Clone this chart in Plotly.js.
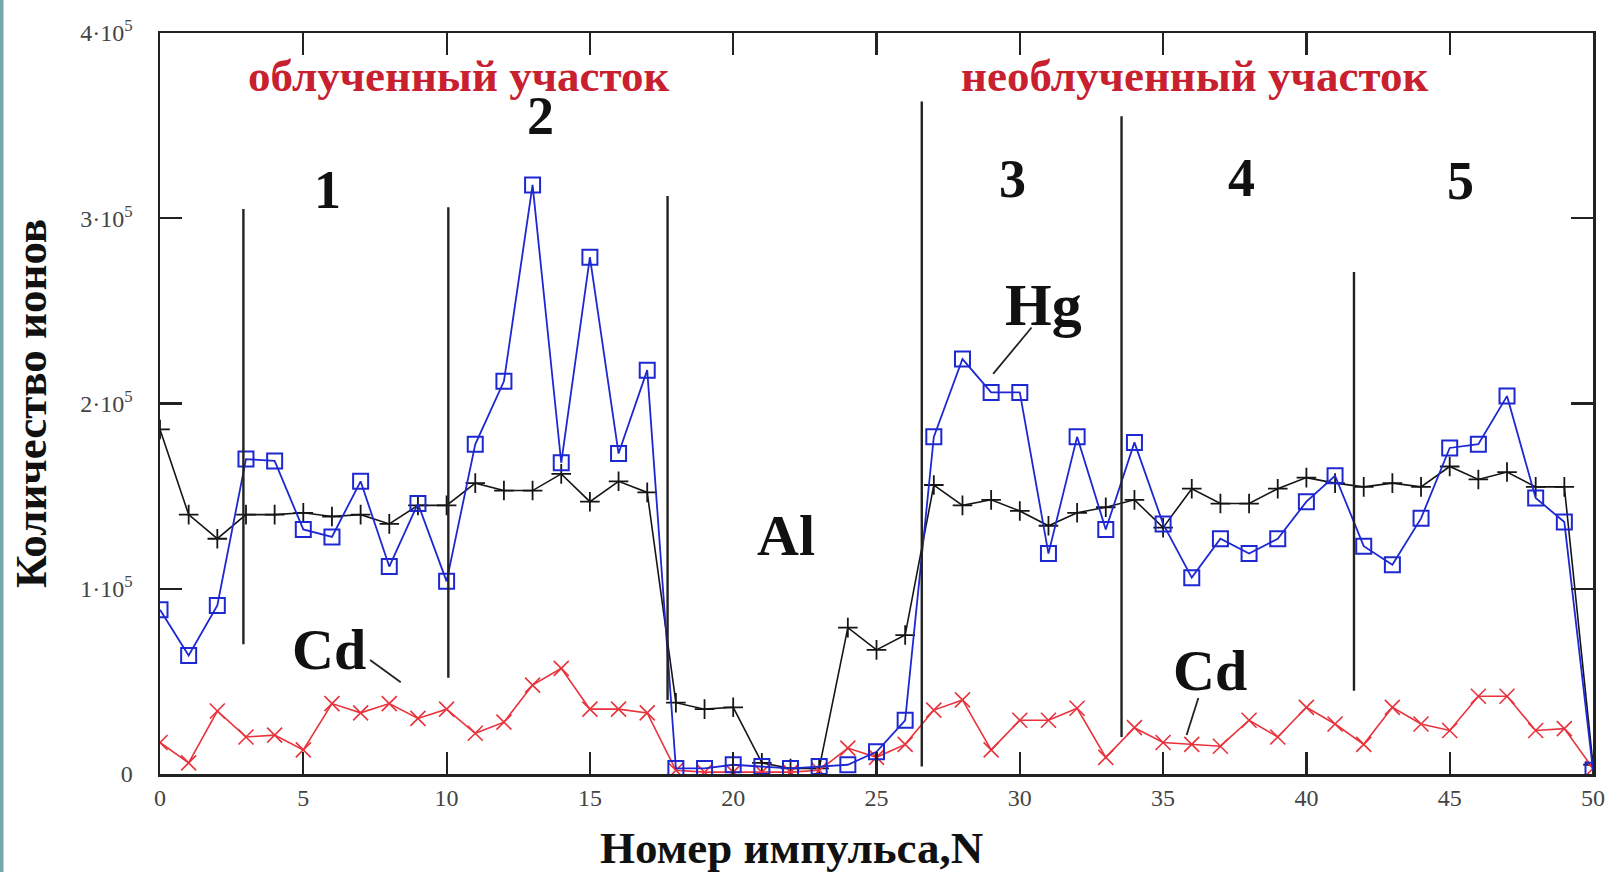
<!DOCTYPE html>
<html>
<head>
<meta charset="utf-8">
<script src="https://cdn.plot.ly/plotly-3.0.1.min.js"></script>
<style>
  html, body { margin: 0; padding: 0; background: #ffffff; }
  #chart { width: 1612px; height: 872px; }
</style>
</head>
<body>
<div id="chart"></div>
<script>
// Pulse number N
const pulseN = [0,1,2,3,4,5,6,7,8,9,10,11,12,13,14,15,16,17,18,19,20,21,22,23,24,25,26,27,28,29,30,31,32,33,34,35,36,37,38,39,40,41,42,43,44,45,46,47,48,49,50];

// Hg (blue, squares)
const hgIons = [88700,64000,91000,170000,169000,132000,128000,158000,112000,146000,
                104000,178000,212000,318000,168000,279000,173000,218000,3000,3000,
                5000,4000,3000,4000,5000,12000,29000,182000,224000,206000,
                206000,119000,182000,132000,179000,135000,106000,127000,119000,127000,
                147000,161000,123000,113000,138000,176000,178000,204000,149000,136000,
                2000];

// black series (+ markers)
const blackIons = [186000,140000,127000,140000,140000,141000,139000,140000,135000,145000,
                   145000,157000,153000,153000,162000,147000,158000,152000,38500,35000,
                   36000,6000,3000,3000,79000,67000,75000,156000,145000,148000,
                   142000,134000,141000,144000,148000,133000,154000,146000,146000,154000,
                   160000,157000,155000,157000,155000,166000,159000,163000,155000,155000,
                   5000];

// Cd (red, x markers)
const cdIons = [17000,6000,34000,20000,21000,13000,38000,33000,38000,30000,
                35000,22000,28000,48000,57000,35000,35000,33000,2000,1000,
                1000,1000,1000,2000,14000,9000,16000,34500,40000,13000,
                29000,29000,35500,9000,25000,17000,16000,15000,29000,20000,
                36000,27000,16000,36000,27000,23500,42000,42000,23500,24500,
                3000];

// region separator lines
const sepX      = [2.91, 10.06, 17.71, 26.58, 33.55, 41.66];
const sepTop    = [305000, 306000, 312000, 363000, 355000, 271000];
const sepBottom = [70000, 52000, 40000, 4000, 20000, 45000];

// axis ticks
const xTickVals = [0,5,10,15,20,25,30,35,40,45,50];
const yTickVals = [0,100000,200000,300000,400000];
const yTickText = ["0","1·10<sup>5</sup>","2·10<sup>5</sup>","3·10<sup>5</sup>","4·10<sup>5</sup>"];

const serif = "Liberation Serif, Times New Roman, serif";

const traces = [
  {
    x: pulseN, y: blackIons, type: "scatter", mode: "lines+markers", name: "+",
    line: {color: "#151515", width: 1.6},
    marker: {symbol: "cross-thin", size: 14, line: {color: "#151515", width: 1.8}},
    showlegend: false
  },
  {
    x: pulseN, y: cdIons, type: "scatter", mode: "lines+markers", name: "Cd",
    line: {color: "#e8323c", width: 1.6},
    marker: {symbol: "x-thin", size: 15, line: {color: "#e8323c", width: 1.6}},
    showlegend: false
  },
  {
    x: pulseN, y: hgIons, type: "scatter", mode: "lines+markers", name: "Hg",
    line: {color: "#1e28d2", width: 1.8},
    marker: {symbol: "square-open", size: 15, color: "#1e28d2", line: {color: "#1e28d2", width: 2}},
    showlegend: false
  }
];

const shapes = sepX.map((xv, i) => ({
  type: "line", xref: "x", yref: "y",
  x0: xv, x1: xv, y0: sepBottom[i], y1: sepTop[i],
  line: {color: "#222222", width: 2.4}, layer: "above"
}));

// leader lines for labels
shapes.push({type: "line", xref: "x", yref: "y", x0: 7.33, y0: 61500, x1: 8.4, y1: 49500, line: {color: "#222", width: 1.8}});
shapes.push({type: "line", xref: "x", yref: "y", x0: 30.41, y0: 241000, x1: 29.07, y1: 216000, line: {color: "#222", width: 1.8}});
shapes.push({type: "line", xref: "x", yref: "y", x0: 36.23, y0: 41000, x1: 35.82, y1: 21000, line: {color: "#222", width: 1.8}});

// teal page border strip on the left edge
shapes.push({type: "rect", xref: "paper", yref: "paper", x0: -0.1117, x1: -0.1092, y0: -0.14, y1: 1.05,
             fillcolor: "#78a6ac", line: {width: 0}, layer: "below"});

function lab(text, x, y, size, color) {
  return {text: text, x: x, y: y, xref: "x", yref: "y", showarrow: false,
          xanchor: "center", yanchor: "middle",
          font: {family: serif, size: size, color: color || "#111111", weight: 700}};
}

const annotations = [
  lab("облученный участок", 10.43, 377000, 45, "#c8202e"),
  lab("необлученный участок", 36.1, 377000, 45, "#c8202e"),
  lab("1", 5.83, 315000, 54),
  lab("2", 13.26, 355000, 54),
  lab("Al", 21.84, 129000, 58),
  lab("3", 29.76, 321000, 54),
  lab("4", 37.72, 322000, 54),
  lab("5", 45.36, 320000, 54),
  lab("Hg", 30.82, 253000, 60),
  lab("Cd", 5.9, 67000, 58),
  lab("Cd", 36.64, 56000, 58),
  {text: "Номер импульса,N", xref: "paper", yref: "paper", x: 0.441, y: -0.1,
   xanchor: "center", yanchor: "middle", showarrow: false,
   font: {family: serif, size: 45, color: "#111111", weight: 700}}
];

const layout = {
  width: 1612, height: 872,
  margin: {l: 160, r: 19, t: 33, b: 98, pad: 0},
  paper_bgcolor: "#ffffff", plot_bgcolor: "#ffffff",
  showlegend: false,
  xaxis: {
    range: [0, 50], tickvals: xTickVals, ticks: "inside", ticklen: 22, tickwidth: 2.2, tickcolor: "#222",
    showline: true, linecolor: "#222", linewidth: 2.5, mirror: "ticks",
    showgrid: false, zeroline: false, ticklabelstandoff: 1,
    tickfont: {family: serif, size: 24, color: "#444"}
  },
  yaxis: {
    range: [0, 400000], tickvals: yTickVals, ticktext: yTickText,
    ticks: "inside", ticklen: 22, tickwidth: 2.2, tickcolor: "#222",
    showline: true, linecolor: "#222", linewidth: 2.5, mirror: "ticks",
    showgrid: false, zeroline: false, ticklabelstandoff: 20,
    tickfont: {family: serif, size: 24, color: "#444"},
    title: {text: "Количество ионов", standoff: 20, font: {family: serif, size: 45, color: "#111", weight: 700}}
  },
  shapes: shapes,
  annotations: annotations
};

Plotly.newPlot("chart", traces, layout, {displayModeBar: false, staticPlot: true});
</script>
</body>
</html>
